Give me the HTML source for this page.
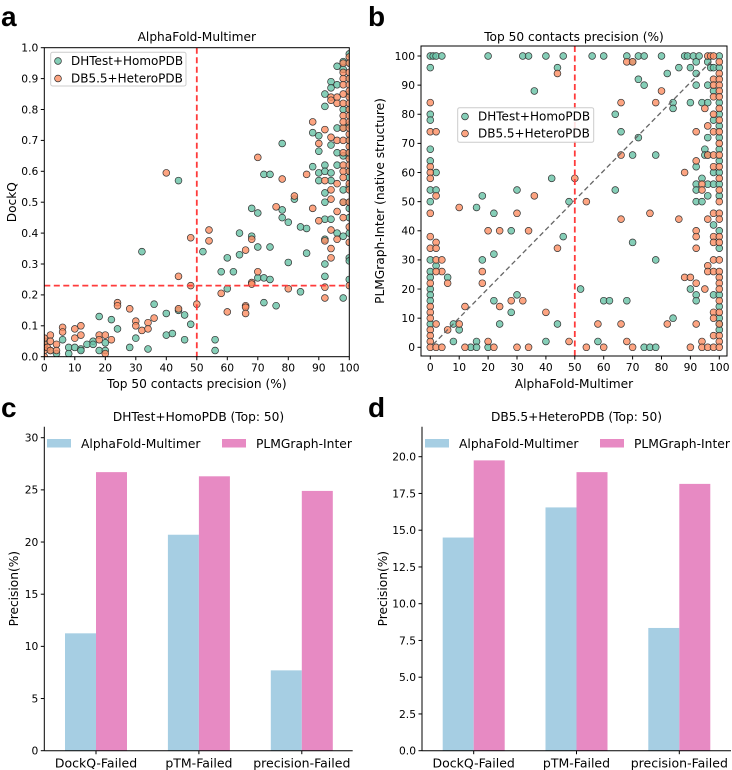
<!DOCTYPE html>
<html><head><meta charset="utf-8">
<style>
html,body{margin:0;padding:0;background:#fff;}
svg{display:block;font-family:"DejaVu Sans","Liberation Sans",sans-serif;}
</style></head>
<body>
<svg id="fig" width="732" height="770" viewBox="0 0 732 770" xmlns="http://www.w3.org/2000/svg">
<text x="1" y="26" font-size="28" font-weight="bold" font-family="Liberation Sans, sans-serif">a</text>
<text x="368" y="26" font-size="28" font-weight="bold" font-family="Liberation Sans, sans-serif">b</text>
<text x="1" y="417" font-size="28" font-weight="bold" font-family="Liberation Sans, sans-serif">c</text>
<text x="368" y="417" font-size="28" font-weight="bold" font-family="Liberation Sans, sans-serif">d</text>
</svg>
<script>
// ---------- Panel a data ----------
const aHomoX=[32,44,52,58,60,60,62,64,64,68,68,70,70,70,72,72,72,74,74,74,76,78,78,78,80,80,82,84,84,86,86,88,88,90,90,90,90,
0,0,2,4,6,8,8,10,12,12,14,16,16,18,18,20,20,22,24,28,30,34,36,40,40,42,44,46,46,48,56,56,
92,92,92,92,92,92,92,92,92,92,94,94,94,94,94,94,96,96,96,96,96,96,98,98,98,98,98,98,98,98,98,
100,100,100,100,100,100,100,100,100,100,100,100,100,100,100,100,100,100,100];
const aHomoY=[0.34,0.57,0.34,0.275,0.32,0.22,0.275,0.33,0.40,0.48,0.39,0.465,0.355,0.255,0.59,0.255,0.175,0.59,0.355,0.25,0.165,0.69,0.475,0.45,0.435,0.305,0.51,0.42,0.21,0.415,0.335,0.725,0.615,0.715,0.665,0.595,0.57,
0.05,0.03,0.02,0.01,0.055,0.03,0.01,0.03,0.025,0.02,0.04,0.05,0.04,0.13,0.02,0.045,0.02,0.12,0.09,0.03,0.06,0.025,0.17,0.14,0.07,0.075,0.15,0.135,0.055,0.105,0.055,0.02,
0.85,0.81,0.62,0.6,0.53,0.5,0.445,0.38,0.30,0.26,0.89,0.87,0.685,0.595,0.57,0.445,0.94,0.88,0.74,0.66,0.62,0.40,0.955,0.93,0.8,0.74,0.65,0.54,0.5,0.39,0.19,
0.98,0.95,0.9,0.85,0.8,0.75,0.7,0.65,0.6,0.55,0.5,0.45,0.4,0.32,0.25,0.31,0.48,0.58,0.66];
const aHeteroX=[0,0,0,0,1,2,2,2,4,4,6,6,10,10,12,12,18,18,20,20,22,24,24,28,30,30,32,34,34,36,40,44,44,48,48,50,54,54,58,60,66,66,66,66,68,68,68,70,70,76,78,80,82,86,88,88,90,90,92,92,92,92,92,94,94,94,94,94,94,94,94,96,96,96,96,96,96,
98,98,98,98,98,98,98,98,98,98,98,98,98,98,98,98,
100,100,100,100,100,100,100,100,100,100,100,100,100,100,100,100,100,100,100,100,100,100,100,100,100];
const aHeteroY=[0.06,0.04,0.02,0.0,0.03,0.07,0.05,0.02,0.04,0.02,0.095,0.08,0.09,0.06,0.1,0.07,0.07,0.055,0.07,0.01,0.055,0.175,0.165,0.155,0.115,0.1,0.085,0.11,0.09,0.125,0.595,0.26,0.155,0.385,0.23,0.17,0.41,0.375,0.205,0.145,0.345,0.165,0.16,0.14,0.38,0.24,0.235,0.645,0.275,0.485,0.575,0.22,0.52,0.59,0.76,0.48,0.69,0.44,0.735,0.57,0.375,0.225,0.19,0.84,0.83,0.71,0.54,0.51,0.41,0.35,0.32,0.84,0.82,0.7,0.56,0.47,0.38,
0.95,0.9,0.85,0.82,0.78,0.74,0.7,0.62,0.6,0.58,0.5,0.45,0.92,0.88,0.76,0.66,
0.97,0.92,0.88,0.84,0.8,0.76,0.72,0.68,0.64,0.6,0.56,0.5,0.42,0.37,0.23,0.95,0.9,0.86,0.82,0.78,0.74,0.7,0.66,0.62,0.54];
const aXTicks=[0,10,20,30,40,50,60,70,80,90,100];
const aYTicks=[0,0.1,0.2,0.3,0.4,0.5,0.6,0.7,0.8,0.9,1.0];

// ---------- Panel b data ----------
const bHomoX=[0,1,2,4,0,0,0,0,0,0,0,0,0,0,0,0,0,0,2,2,2,6,8,8,10,14,16,16,16,18,18,20,20,22,22,22,24,28,28,30,30,32,34,36,40,40,42,44,44,46,46,48,52,56,58,60,60,62,64,64,66,68,68,70,70,70,72,72,72,74,74,74,76,78,78,78,80,82,84,84,84,86,88,89,90,90,90,91,92,92,92,92,92,92,92,92,92,93,94,94,94,95,95,96,96,96,96,96,96,96,97,98,98,98,98,98,98,98,
100,100,100,100,100,100,100,100,100,100,100,100,100,100,100,100,100,100];
const bHomoY=[100,100,100,100,96,80,78,68,64,54,50,30,26,24,20,18,16,8,60,54,28,24,8,2,6,0,2,0,48,52,30,100,0,46,32,16,8,40,12,54,18,100,100,88,100,2,58,96,8,100,38,50,20,100,2,100,16,16,80,54,74,100,16,98,66,36,92,72,100,90,100,0,0,0,66,30,100,94,84,82,10,96,100,100,96,84,20,100,98,94,90,62,56,54,50,18,16,100,84,50,58,68,66,90,84,72,66,56,52,98,96,88,78,96,60,56,42,18,
100,96,84,80,76,72,68,64,60,56,52,40,34,18,14,10,8,6];
const bHeteroX=[0,0,2,0,0,0,2,0,0,0,2,2,2,4,4,2,0,0,0,0,0,0,0,0,2,4,2,6,6,10,10,12,12,18,18,20,20,22,24,24,28,30,30,32,34,34,36,40,44,44,48,50,54,54,58,60,66,66,66,66,68,68,70,70,76,78,80,82,86,88,88,90,90,92,92,92,92,92,92,92,94,94,94,94,95,95,96,96,96,96,96,96,96,97,98,98,98,98,98,98,98,98,98,98,98,98,98,98,98,98,98,
100,100,100,100,100,100,100,100,100,100,100,100,100,100,100,100,100,100,100,100,100,100,100,100,100,100,100,100,100,100];
const bHeteroY=[84,74,74,62,60,58,52,46,38,34,36,34,30,30,26,26,22,14,12,10,6,4,2,0,0,0,8,22,6,48,8,14,0,26,22,40,2,0,40,14,16,46,0,16,40,0,52,12,94,34,2,58,50,0,8,0,84,66,44,8,98,2,0,98,46,84,88,8,44,60,24,24,0,74,64,40,38,34,22,8,2,56,54,0,82,20,100,76,66,44,28,26,0,100,80,74,66,46,38,36,30,26,12,10,4,0,100,92,90,86,62,
98,94,92,90,88,86,82,78,74,70,66,62,58,54,50,46,44,38,36,30,26,24,22,20,16,12,8,4,2,0];
const bTicks=[0,10,20,30,40,50,60,70,80,90,100];

// ---------- Panel c / d data ----------
const barCategories=["DockQ-Failed","pTM-Failed","precision-Failed"];
const cAlphaFold=[11.25,20.7,7.7];
const cPLMGraph=[26.7,26.3,24.9];
const cTicks=[0,5,10,15,20,25,30];
const dAlphaFold=[14.5,16.55,8.35];
const dPLMGraph=[19.75,18.95,18.15];
const dTicks=[0,2.5,5,7.5,10,12.5,15,17.5,20];

const NS="http://www.w3.org/2000/svg";
const svg=document.getElementById('fig');
function el(tag,attrs,parent,txt){const e=document.createElementNS(NS,tag);for(const k in attrs)e.setAttribute(k,attrs[k]);if(txt!==undefined)e.textContent=txt;(parent||svg).appendChild(e);return e;}
const GREEN="#66c2a5",ORANGE="#fc8d62",BLUE="#a6cee3",PINK="#e78ac3";
const TICKFS=10.7, LABFS=12.2;

function lin(d0,d1,r0,r1){return v=>r0+(v-d0)*(r1-r0)/(d1-d0);}

// ===== Panel a =====
(function(){
 const L=44.3,R=349.3,T=47.7,B=356.7;
 const sx=lin(0,100,L,R), sy=lin(0,1,B,T);
 const g=el('g',{});
 
 
 const clip=el('clipPath',{id:'clipA'},g);el('rect',{x:L,y:T,width:R-L,height:B-T},clip);
 const pts=el('g',{'clip-path':'url(#clipA)'},g);
 aHomoX.forEach((x,i)=>{const c=el('circle',{cx:sx(x),cy:sy(aHomoY[i]),r:3.4,fill:GREEN,'fill-opacity':0.8,stroke:'#333','stroke-width':0.7},pts);
  
  });
 aHeteroX.forEach((x,i)=>{const c=el('circle',{cx:sx(x),cy:sy(aHeteroY[i]),r:3.4,fill:ORANGE,'fill-opacity':0.8,stroke:'#333','stroke-width':0.7},pts);
  
  });
 const v=el('line',{x1:sx(50),x2:sx(50),y1:T,y2:B,stroke:'#ff3b3b','stroke-width':1.8,'stroke-dasharray':'6,3.5'},g);
 
 
 const h=el('line',{x1:L,x2:R,y1:sy(0.23),y2:sy(0.23),stroke:'#ff3b3b','stroke-width':1.8,'stroke-dasharray':'6,3.5'},g);
 
 
 el('rect',{x:L,y:T,width:R-L,height:B-T,fill:'none',stroke:'#000','stroke-width':1},g);
 aXTicks.forEach(t=>{el('line',{x1:sx(t),x2:sx(t),y1:B,y2:B+3.5,stroke:'#000'},g);
  const tx=el('text',{x:sx(t),y:B+15,'font-size':TICKFS,'text-anchor':'middle'},g,String(t));
  
  });
 aYTicks.forEach(t=>{el('line',{x1:L-3.5,x2:L,y1:sy(t),y2:sy(t),stroke:'#000'},g);
  const tx=el('text',{x:L-6,y:sy(t)+3.8,'font-size':TICKFS,'text-anchor':'end'},g,t.toFixed(1));
  
  });
 const xl=el('text',{x:(L+R)/2,y:388,'font-size':LABFS,'text-anchor':'middle'},g,'Top 50 contacts precision (%)');
 
 
 const yl=el('text',{x:0,y:0,'font-size':LABFS,'text-anchor':'middle',transform:`translate(16,${(T+B)/2}) rotate(-90)`},g,'DockQ');
 
 
 const ti=el('text',{x:(L+R)/2,y:41,'font-size':LABFS,'text-anchor':'middle'},g,'AlphaFold-Multimer');
 
 
 const lg=el('g',{},g);
 
 
 el('rect',{x:50.7,y:52.3,width:135.3,height:33.7,fill:'#fff','fill-opacity':0.85,stroke:'#ccc',rx:2},lg);
 el('circle',{cx:58,cy:61,r:3.4,fill:GREEN,'fill-opacity':0.8,stroke:'#333','stroke-width':0.7},lg);
 el('text',{x:71,y:65,'font-size':12},lg,'DHTest+HomoPDB');
 el('circle',{cx:58,cy:78.5,r:3.4,fill:ORANGE,'fill-opacity':0.8,stroke:'#333','stroke-width':0.7},lg);
 el('text',{x:71,y:82.5,'font-size':12},lg,'DB5.5+HeteroPDB');
})();

// ===== Panel b =====
(function(){
 const L=421,R=727,T=46,B=356;
 const sx=lin(0,100,430.3,719.3), sy=lin(0,100,347.3,56);
 const g=el('g',{});
 
 
 const clip=el('clipPath',{id:'clipB'},g);el('rect',{x:L,y:T,width:R-L,height:B-T},clip);
 const pts=el('g',{'clip-path':'url(#clipB)'},g);
 bHomoX.forEach((x,i)=>{const c=el('circle',{cx:sx(x),cy:sy(bHomoY[i]),r:3.4,fill:GREEN,'fill-opacity':0.8,stroke:'#333','stroke-width':0.7},pts);
  
  });
 bHeteroX.forEach((x,i)=>{const c=el('circle',{cx:sx(x),cy:sy(bHeteroY[i]),r:3.4,fill:ORANGE,'fill-opacity':0.8,stroke:'#333','stroke-width':0.7},pts);
  
  });
 const d=el('line',{x1:sx(1),y1:sy(1),x2:sx(97),y2:sy(98),stroke:'#666','stroke-width':1.3,'stroke-dasharray':'5,3'},g);
 
 
 const v=el('line',{x1:sx(50),x2:sx(50),y1:T,y2:B,stroke:'#ff3b3b','stroke-width':1.8,'stroke-dasharray':'6,3.5'},g);
 
 
 el('rect',{x:L,y:T,width:R-L,height:B-T,fill:'none',stroke:'#000','stroke-width':1},g);
 bTicks.forEach(t=>{el('line',{x1:sx(t),x2:sx(t),y1:B,y2:B+3.5,stroke:'#000'},g);
  const tx=el('text',{x:sx(t),y:B+15,'font-size':TICKFS,'text-anchor':'middle'},g,String(t));
  
  
  el('line',{x1:L-3.5,x2:L,y1:sy(t),y2:sy(t),stroke:'#000'},g);
  const ty=el('text',{x:L-6,y:sy(t)+3.8,'font-size':TICKFS,'text-anchor':'end'},g,String(t));
  
  });
 const xl=el('text',{x:(L+R)/2,y:388,'font-size':LABFS,'text-anchor':'middle'},g,'AlphaFold-Multimer');
 
 
 const yl=el('text',{x:0,y:0,'font-size':LABFS,'text-anchor':'middle',transform:`translate(384,${(T+B)/2}) rotate(-90)`},g,'PLMGraph-Inter (native structure)');
 
 
 const ti=el('text',{x:(L+R)/2,y:41,'font-size':LABFS,'text-anchor':'middle'},g,'Top 50 contacts precision (%)');
 
 
 const lg=el('g',{},g);
 
 
 el('rect',{x:457.7,y:107.7,width:136,height:34.6,fill:'#fff','fill-opacity':0.85,stroke:'#ccc',rx:2},lg);
 el('circle',{cx:465,cy:116.5,r:3.4,fill:GREEN,'fill-opacity':0.8,stroke:'#333','stroke-width':0.7},lg);
 el('text',{x:478,y:120.5,'font-size':12},lg,'DHTest+HomoPDB');
 el('circle',{cx:465,cy:133.5,r:3.4,fill:ORANGE,'fill-opacity':0.8,stroke:'#333','stroke-width':0.7},lg);
 el('text',{x:478,y:137.5,'font-size':12},lg,'DB5.5+HeteroPDB');
})();

// ===== Bar panels =====
function barPanel(o){
 const g=el('g',{});
 
 
 const sy=lin(0,o.ymax,o.B,o.T);
 const bw=31;
 barCategories.forEach((c,i)=>{
  const cx=o.c0+i*o.step;
  const b1=el('rect',{x:cx-bw,y:sy(o.af[i]),width:bw,height:o.B-sy(o.af[i]),fill:BLUE},g);
  
  
  const b2=el('rect',{x:cx,y:sy(o.plm[i]),width:bw,height:o.B-sy(o.plm[i]),fill:PINK},g);
  
  
  el('line',{x1:cx,x2:cx,y1:o.B,y2:o.B+3.5,stroke:'#000'},g);
  const tx=el('text',{x:cx,y:o.B+17,'font-size':12.5,'text-anchor':'middle'},g,c);
  
  
 });
 o.ticks.forEach(t=>{el('line',{x1:o.L-3.5,x2:o.L,y1:sy(t),y2:sy(t),stroke:'#000'},g);
  const ty=el('text',{x:o.L-6,y:sy(t)+3.8,'font-size':TICKFS,'text-anchor':'end'},g,o.fmt(t));
  
  });
 el('line',{x1:o.L,x2:o.L,y1:426.7,y2:o.B,stroke:'#000','stroke-width':1},g);
 el('line',{x1:o.L,x2:o.R,y1:o.B,y2:o.B,stroke:'#000','stroke-width':1},g);
 const yl=el('text',{x:0,y:0,'font-size':LABFS,'text-anchor':'middle',transform:`translate(${o.ylx},${(426.7+o.B)/2}) rotate(-90)`},g,'Precision(%)');
 
 
 const ti=el('text',{x:(o.L+o.R)/2,y:421,'font-size':LABFS,'text-anchor':'middle'},g,o.title);
 
 
 const lg=el('g',{},g);
 
 
 el('rect',{x:o.lg1,y:439,width:24,height:8.5,fill:BLUE},lg);
 el('text',{x:o.lg1+34,y:448,'font-size':12.3},lg,'AlphaFold-Multimer');
 el('rect',{x:o.lg2,y:439,width:24,height:8.5,fill:PINK},lg);
 el('text',{x:o.lg2+34,y:448,'font-size':12.3},lg,'PLMGraph-Inter');
}
barPanel({name:'panel-c-bar-chart',L:44.3,R:352.7,T:437.7,B:750.7,ymax:30,c0:96,step:102.9,af:cAlphaFold,plm:cPLMGraph,ticks:cTicks,fmt:t=>String(t),ylx:18,title:'DHTest+HomoPDB (Top: 50)',lg1:47,lg2:222});
barPanel({name:'panel-d-bar-chart',L:422,R:731,T:456.7,B:750.7,ymax:20,c0:473.7,step:102.8,af:dAlphaFold,plm:dPLMGraph,ticks:dTicks,fmt:t=>t.toFixed(1),ylx:387,title:'DB5.5+HeteroPDB (Top: 50)',lg1:425,lg2:600});
</script>
</body></html>
